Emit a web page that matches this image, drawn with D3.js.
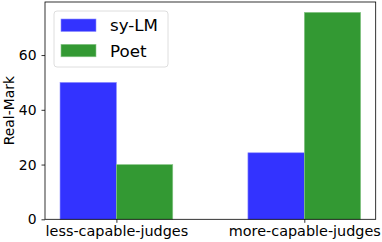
<!DOCTYPE html>
<html>
<head>
<meta charset="utf-8">
<script src="https://cdn.jsdelivr.net/npm/d3@7"></script>
<style>
  body { margin: 0; background: #fff; }
</style>
</head>
<body>
<div id="chart"></div>
<script>
// --- DATA ---
const categories = ['less-capable-judges', 'more-capable-judges'];
const seriesNames = ['sy-LM', 'Poet'];
const syLM = [50.0, 24.3];
const poet = [20.0, 75.6];
const yTicks = [0, 20, 40, 60];

const colors = {'sy-LM': '#3333ff', 'Poet': '#339933'};
const edges = {'sy-LM': '#8c8cff', 'Poet': '#8cc88c'};
const FONT = "'DejaVu Sans', sans-serif";

// --- SETUP ---
const width = 382, height = 242;
const margin = {top: 2, right: 6.3, bottom: 22.7, left: 45};
const innerW = width - margin.left - margin.right;
const innerH = height - margin.top - margin.bottom;

const svg = d3.select('#chart').append('svg')
  .attr('width', width).attr('height', height);
const g = svg.append('g').attr('transform', `translate(${margin.left},${margin.top})`);

const barW = 0.3;
const x = d3.scaleLinear().domain([-0.38, 1.38]).range([0, innerW]);
const yMax = d3.max(poet.concat(syLM)) * 1.05;
const y = d3.scaleLinear().domain([0, yMax]).range([innerH, 0]);

// bars
const series = [syLM, poet];
series.forEach((vals, si) => {
  const name = seriesNames[si];
  g.selectAll('.bar' + si)
    .data(vals)
    .enter().append('rect')
    .attr('x', (d, i) => x(i + (si === 0 ? -barW : 0)))
    .attr('width', x(barW) - x(0))
    .attr('y', d => y(d))
    .attr('height', d => y(0) - y(d))
    .attr('fill', colors[name])
    .attr('stroke', edges[name])
    .attr('stroke-width', 0.6);
});

// axes
const yAxis = g.append('g')
  .call(d3.axisLeft(y).tickValues(yTicks).tickSize(3.5).tickPadding(5));
const xAxis = g.append('g').attr('transform', `translate(0,${innerH})`)
  .call(d3.axisBottom(x).tickValues([0, 1]).tickFormat(i => categories[i]).tickSize(3.5).tickPadding(2.5));
[yAxis, xAxis].forEach(a => {
  a.attr('font-family', null).attr('font-size', null);
  a.select('.domain').remove();
  a.selectAll('text').style('font-family', FONT).style('font-size', '13.9px').attr('fill', '#000');
  a.selectAll('line').attr('stroke', '#000').attr('stroke-width', 0.8);
});
xAxis.selectAll('text').style('font-size', '14.4px');

// frame
g.append('rect').attr('width', innerW).attr('height', innerH)
  .attr('fill', 'none').attr('stroke', '#000').attr('stroke-width', 0.8);

// y label
svg.append('text')
  .attr('transform', `translate(14,${margin.top + innerH / 2}) rotate(-90)`)
  .attr('text-anchor', 'middle')
  .style('font-family', FONT)
  .style('font-size', '13.9px')
  .text('Real-Mark');

// legend
const lg = svg.append('g').attr('transform', 'translate(54,11)');
lg.append('rect').attr('width', 114).attr('height', 56).attr('rx', 3)
  .attr('fill', '#fff').attr('fill-opacity', 0.8)
  .attr('stroke', '#d5d5d5').attr('stroke-width', 0.8);
seriesNames.forEach((name, i) => {
  lg.append('rect').attr('x', 7).attr('y', 8 + i * 25.3)
    .attr('width', 35).attr('height', 12.5)
    .attr('fill', colors[name]).attr('stroke', edges[name]).attr('stroke-width', 0.6);
  lg.append('text').attr('x', 56).attr('y', 14.5 + i * 25.3)
    .attr('dy', '0.35em')
    .style('font-family', FONT)
    .style('font-size', '16.7px').text(name);
});
</script>
</body>
</html>
